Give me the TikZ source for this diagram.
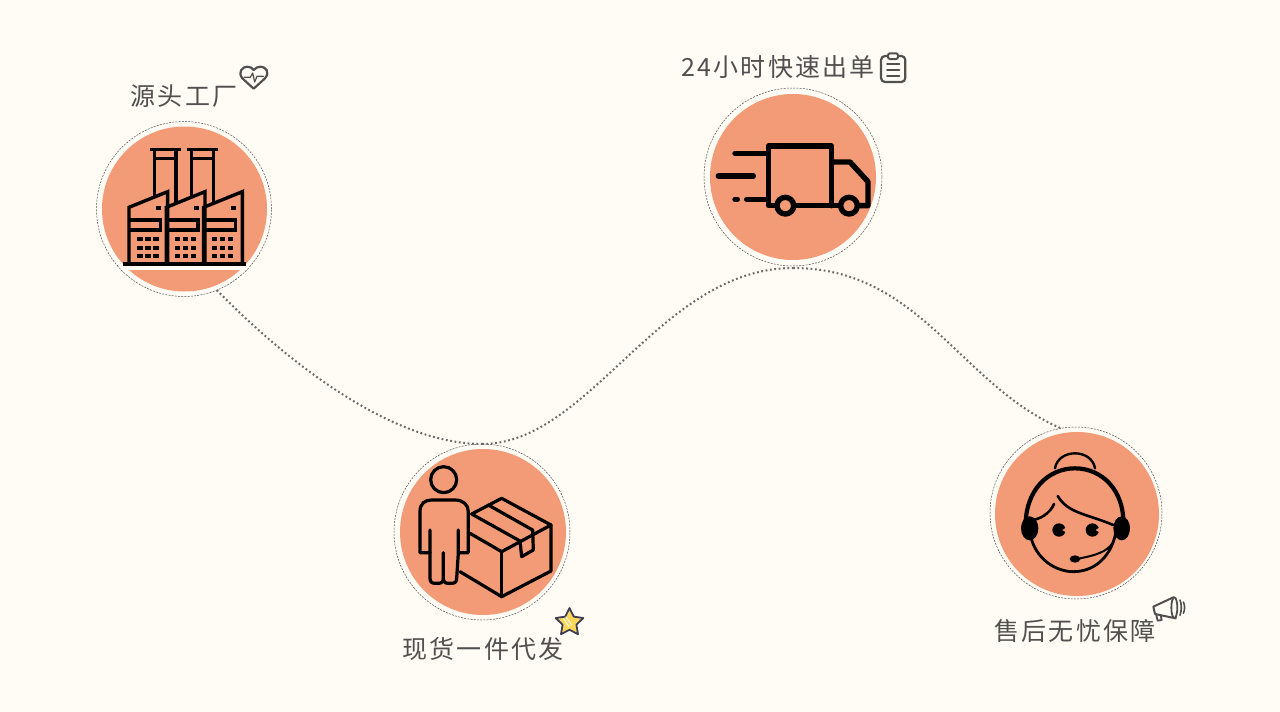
\documentclass[tikz,border=0pt]{standalone}
\usepackage{fontspec}
\usepackage{xcolor}
\usetikzlibrary{shapes.geometric}
\newfontfamily\cjkfont[LetterSpace=9]{Noto Sans CJK SC}
\definecolor{bgcream}{HTML}{FFFCF5}
\definecolor{badge}{HTML}{F39B76}
\definecolor{inkgray}{HTML}{505050}
\definecolor{stargold}{HTML}{FBD75B}
\definecolor{stardark}{HTML}{3F3F55}
\tikzset{
  ring/.style={circle, draw=inkgray, line width=0.5pt, dash pattern=on 2pt off 1.2pt, inner sep=0pt, outer sep=0pt},
  disc/.style={circle, fill=badge, inner sep=0pt, outer sep=0pt, minimum size=#1},
  caption/.style={font=\cjkfont\fontsize{25}{25}\selectfont, text=inkgray, inner sep=0pt},
  route/.style={inkgray!85, line width=2pt, dash pattern=on 1.8pt off 2.6pt},
  icon/.style={black, line width=#1, line cap=round, line join=round},
  small/.style={inkgray, line width=#1, line join=round, line cap=round}
}
\begin{document}
\begin{tikzpicture}[x=1pt, y=-1pt]
\fill[bgcream, use as bounding box] (0,0) rectangle (1280,712);
% --- Badges ---
\node[ring, minimum size=175pt] (facring) at (184,209) {};
\node[disc=165pt] (fac) at (184.5,209) {};
\node[ring, minimum size=178pt] (truckring) at (793,177) {};
\node[disc=166pt] (truck) at (793,177) {};
\node[ring, minimum size=176pt] (perring) at (482,532) {};
\node[disc=166pt] (per) at (483,532) {};
\node[ring, minimum size=172pt] (helpring) at (1076,513) {};
\node[disc=164pt] (help) at (1077,514) {};
% Captions
\node[caption] (factext) at (184,96) {源头工厂};
\node[caption] (trucktext) at (778,67) {24小时快速出单};
\node[caption] (pertext) at (483,649) {现货一件代发};
\node[caption] (helptext) at (1075,631) {售后无忧保障};
% Route between the badges
\draw[route] (facring.-68) .. controls (300,375) and (400,444) .. (perring.north);
\draw[route] (perring.north) .. controls (590,444) and (660,268) .. ([yshift=-2pt]truckring.south);
\draw[route] ([yshift=-2pt]truckring.south) .. controls (920,268) and (960,385) .. (helpring.100);

% --- Factory icon ---
\begin{scope}[shift={(90,55)}, scale=1/3]
\begin{scope}
\clip (282,465) circle [radius=249];
\fill[bgcream] (90,630) rectangle (480,645);
\end{scope}
\foreach \s in {0,112,224} {
    \draw[icon=3.4pt, line cap=butt, line join=miter] (117+\s,626) -- (117+\s,457) -- (233+\s,410) -- (233+\s,626);
    \draw[icon=3.4pt, line cap=butt, line join=miter] (117+\s,495) -- (212+\s,495) -- (212+\s,525) -- (117+\s,525);
    \fill (199+\s,454) rectangle (214+\s,466);
    \foreach \x in {150,174,198} {
        \foreach \y in {553,578,602} {
            \fill (\x-8+\s,\y-6) rectangle (\x+8+\s,\y+6);
        }
    }
}
\foreach \s in {0,112} {
    \draw[icon=3.4pt, line cap=butt] (180+\s,283) -- (272+\s,283);
    \draw[icon=2.8pt, line cap=butt] (193+\s,310) -- (260+\s,310);
    \draw[icon=3.4pt, line cap=butt] (193+\s,283) -- (193+\s,425);
    \draw[icon=3.4pt, line cap=butt] (258+\s,283) -- (258+\s,445);
}
\draw[icon=4pt, line cap=butt] (99,626) -- (467,626);
\end{scope}

% --- Truck icon ---
\begin{scope}[shift={(670,40)}, scale=1/3]
\draw[icon=5.4pt] (315,497) -- (295,497) -- (295,318) -- (485,318) -- (485,497);
\draw[icon=5.4pt] (485,366) -- (540,366) -- (594,425) -- (594,497) -- (570,497);
\draw[icon=5.4pt] (378,497) -- (505,497);
\draw[icon=5.4pt] (346,497) circle [radius=25];
\draw[icon=5.4pt] (537,497) circle [radius=25];
\draw[icon=5.4pt] (195,340) -- (295,340);
\draw[icon=5.4pt] (145,408) -- (250,408);
\draw[icon=5.4pt] (230,478) -- (295,478);
\draw[icon=5.4pt] (195,478) -- (202,478);
\end{scope}

% --- Person with box icon ---
\begin{scope}[shift={(390,440)}, scale=1/3]
\draw[icon=3.2pt] (161,119) circle [radius=39];
\draw[icon=3.2pt] (120,270) -- (120,338) -- (90,338) -- (90,215) .. controls (90,190) and (105,180) .. (125,180) -- (195,180) .. controls (220,180) and (235,195) .. (235,215) -- (235,338) -- (205,338) -- (205,270);
\draw[icon=3.2pt] (120,338) -- (120,415) .. controls (120,425) and (125,430) .. (135,430) -- (145,430) .. controls (155,430) and (160,425) .. (160,415) -- (160,338);
\draw[icon=3.2pt] (160,415) .. controls (160,425) and (165,430) .. (175,430) -- (185,430) .. controls (195,430) and (200,425) .. (200,415) -- (205,338);
\draw[icon=3.2pt] (245,222) -- (335,175) -- (483,255) -- (335,335) -- (240,280);
\draw[icon=3.2pt] (483,255) -- (483,393) -- (335,470) -- (210,395);
\draw[icon=3.2pt] (335,335) -- (335,470);
\draw[icon=3.2pt] (245,222) -- (390,303) -- (395,350) -- (430,330) -- (428,270);
\draw[icon=3.2pt] (295,195) -- (428,270);
\end{scope}

% --- Headset icon ---
\begin{scope}[shift={(985,420)}, scale=1/3]
\draw[icon=2.4pt] (210,145) .. controls (220,85) and (320,85) .. (330,145);
\draw[icon=4.2pt] (122,320) .. controls (120,210) and (190,145) .. (270,145) .. controls (350,145) and (420,210) .. (415,320);
\draw[icon=2.8pt] (135,340) .. controls (150,420) and (215,455) .. (265,455) .. controls (320,455) and (375,420) .. (392,340);
\draw[icon=2.6pt] (218,228) .. controls (250,280) and (300,280) .. (385,315);
\draw[icon=2.6pt] (207,252) .. controls (195,280) and (165,300) .. (130,302);
\fill (134,325) ellipse [x radius=26, y radius=36];
\fill (410,325) ellipse [x radius=25, y radius=36];
% eyes with a notch on the right
\foreach \e in {222,322} {
    \fill (\e,330) circle [radius=20];
    \fill[badge] (\e+10,330) -- (\e+24,321) -- (\e+24,339) -- cycle;
}
\fill (270,417) ellipse [x radius=16, y radius=11];
\draw[icon=2pt] (285,415) .. controls (335,405) and (365,395) .. (382,370);
\end{scope}

% --- Small decorations ---
\begin{scope}[shift={(232,58)}, scale=1/3]
\draw[small=2.2pt] (65,92) -- (32,62) .. controls (15,42) and (32,26) .. (46,26) .. controls (54,26) and (61,30) .. (65,36) .. controls (69,30) and (78,26) .. (86,26) .. controls (100,26) and (116,42) .. (98,62) -- cycle;
\draw[small=1.2pt] (36,58) -- (55,58) -- (62,45) -- (68,72) -- (75,55) -- (94,55);
\end{scope}
\begin{scope}[shift={(872,48)}, scale=1/3]
\draw[small=2.2pt, rounded corners=4pt] (27,24) rectangle (100,102);
\draw[small=2pt, fill=bgcream, rounded corners=2pt] (48,16) rectangle (78,33);
\foreach \y in {48,65,83} {
    \draw[small=2pt] (45,\y) -- (82,\y);
}
\end{scope}
\node[star, star points=5, star point ratio=2, minimum size=29pt, inner sep=0pt, fill=stargold, draw=stardark, line width=1.8pt, line join=round] (badgestar) at (569.5,622.5) {};
\begin{scope}[shift={(545,600)}, scale=1/3]
\draw[white, line width=0.8pt] (55,55) -- (72,80);
\draw[white, line width=0.8pt] (62,50) -- (80,75);
\end{scope}
\begin{scope}[shift={(1145,590)}, scale=1/3]
\draw[small=2pt] (25,50) -- (85,22) -- (92,85) -- (30,72) -- cycle;
\draw[small=1.8pt, fill=bgcream] (88,53) ellipse [x radius=9, y radius=31];
\draw[small=1.6pt] (105,30) .. controls (110,42) and (110,62) .. (105,76);
\draw[small=1.6pt] (115,36) .. controls (120,46) and (120,60) .. (115,70);
\draw[small=1.8pt] (33,72) -- (38,92) -- (50,90) -- (47,76);
\end{scope}
\end{tikzpicture}
\end{document}
